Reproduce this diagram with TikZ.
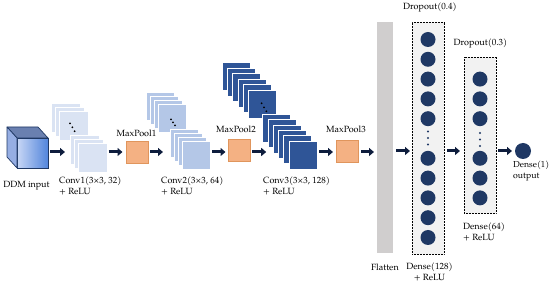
\documentclass[tikz,border=0pt]{standalone}
\usepackage{fontspec}
\setmainfont{texgyrepagella-regular.otf}
\usetikzlibrary{arrows.meta,calc}
\definecolor{navy}{HTML}{1F3864}
\definecolor{arrc}{HTML}{0E1D3D}
\definecolor{cA}{HTML}{DAE3F3}
\definecolor{cB}{HTML}{B4C7E7}
\definecolor{cC}{HTML}{2F5597}
\definecolor{poolc}{HTML}{F4B183}
\definecolor{poold}{HTML}{E0955C}
\definecolor{flatc}{HTML}{D0CECE}
\definecolor{boxc}{HTML}{F2F2F2}
\definecolor{cubeL}{HTML}{C8D7F5}
\definecolor{cubeR}{HTML}{5285DC}
\definecolor{cubeT}{HTML}{6A80B0}
\definecolor{cubeS}{HTML}{96AEE3}
\begin{document}
\begin{tikzpicture}[x=1pt,y=-1pt,
  font=\fontsize{9}{11}\selectfont,
  arr/.style={draw=arrc, line width=3pt, -{Triangle[length=5pt,width=8pt]}},
  fmap/.style={draw=white, line width=0.5pt, minimum size=28pt, inner sep=0pt, outer sep=0pt, anchor=north west},
  pool/.style={draw=poold, fill=poolc, line width=0.6pt, minimum size=22pt, inner sep=0pt, outer sep=0pt},
  neuron/.style={circle, fill=navy, minimum size=15pt, inner sep=0pt, outer sep=0pt},
  lbl/.style={inner sep=0pt, align=left, anchor=west},
  clbl/.style={inner sep=0pt, align=center}
]
\useasboundingbox (0,0) rectangle (550,283);
\coordinate (ay) at (0,152);

% input cube
\node[draw=navy, line width=0.7pt, left color=cubeL, right color=cubeR,
      minimum width=31pt, minimum height=30pt, inner sep=0pt, outer sep=0pt,
      anchor=north west] (cube) at (17,138) {};
\draw[navy, line width=0.7pt, fill=cubeT, line join=round]
  (cube.north west) -- ++(-10,-11) -- ++(31,0) -- (cube.north east) -- cycle;
\draw[navy, line width=0.7pt, fill=cubeS, line join=round]
  (cube.north west) -- ++(-10,-11) -- ++(0,30) -- (cube.south west) -- cycle;
\node[clbl] (lddm) at (26.5,186) {DDM input};

% Conv1
\foreach \i in {0,1,2}
  \node[fmap, minimum size=29pt, fill=cA] (c1b\i) at ({51+4*\i},{103+4*\i}) {};
\foreach \p in {(70,123.5),(72.3,127.3),(74.6,131.2)} \fill[black] \p circle (1pt);
\foreach \i in {0,1,2}
  \node[fmap, minimum size=29pt, fill=cA] (c1f\i) at ({70+4*\i},{135+4*\i}) {};
\node[lbl] (lc1) at (59,185.5) {Conv1(3×3, 32)\\+ ReLU};

% MaxPool1
\node[pool] (p1) at (137.5,152) {};
\node[clbl] (lp1) at (136.5,133) {MaxPool1};

% Conv2
\foreach \i in {0,1,2,3}
  \node[fmap, fill=cB] (c2b\i) at ({146+4*\i},{92+4*\i}) {};
\foreach \p in {(171,119.3),(173,122.3),(175,125.3)} \fill[black] \p circle (1pt);
\foreach \i in {0,1,2,3}
  \node[fmap, fill=cB] (c2f\i) at ({170+4*\i},{129+4*\i}) {};
\node[lbl] (lc2) at (161,185.5) {Conv2(3×3, 64)\\+ ReLU};

% MaxPool2
\node[pool] (p2) at (239.5,150.5) {};
\node[clbl] (lp2) at (236,129) {MaxPool2};

% Conv3
\foreach \i in {0,...,5}
  \node[fmap, fill=cC] (c3b\i) at ({222.3+5.2*\i},{62.3+5.6*\i}) {};
\foreach \p in {(261.7,103.3),(264,107.3),(266.3,111.3)} \fill[black] \p circle (1pt);
\foreach \i in {0,...,5}
  \node[fmap, fill=cC] (c3f\i) at ({262.7+5.26*\i},{114.3+5.34*\i}) {};
\node[lbl] (lc3) at (263,185.5) {Conv3(3×3, 128)\\+ ReLU};

% MaxPool3
\node[pool] (p3) at (347,151) {};
\node[clbl] (lp3) at (346,129) {MaxPool3};

% Flatten
\node[fill=flatc, minimum width=16pt, minimum height=231pt, inner sep=0pt, outer sep=0pt,
      anchor=north west] (fl) at (377,22) {};
\node[clbl] (lfl) at (385,267) {Flatten};

% Dense(128)
\node[draw=black, densely dotted, line width=0.5pt, fill=boxc, minimum width=32pt, minimum height=232pt,
      inner sep=0pt, outer sep=0pt, anchor=north west] (d128) at (412,22) {};
\foreach \k in {0,1,2,3,4,6,7,8,9,10}
  \node[neuron] (na\k) at (428,{39.5+19.8*\k}) {};
\foreach \y in {131.5,138,144.5} \fill[navy] (428,\y) circle (1.2pt);
\node[clbl] (ldr4) at (430,7) {Dropout(0.4)};
\node[clbl] (ld128) at (429.5,272) {Dense(128)\\+ ReLU};

% Dense(64)
\node[draw=black, densely dotted, line width=0.5pt, fill=boxc, minimum width=32pt, minimum height=156pt,
      inner sep=0pt, outer sep=0pt, anchor=north west] (d64) at (464,57) {};
\foreach \k in {2,3,4,6,7,8}
  \node[neuron] (nb\k) at (480,{39.5+19.8*\k}) {};
\foreach \y in {133,139.5,146} \fill[navy] (480,\y) circle (1.2pt);
\node[clbl] (ldr3) at (480.5,43) {Dropout(0.3)};
\node[lbl] (ld64) at (463,231.5) {Dense(64)\\+ ReLU};

% output
\node[neuron, minimum size=16pt] (out) at (523,151) {};
\node[lbl, font=\fontsize{8.7}{10.5}\selectfont] (lout) at (513,171) {Dense(1)\\output};

% arrows
\draw[arr, shorten <=2pt, shorten >=5pt] (cube.east |- ay) -- (c1f0.west |- ay);
\draw[arr, shorten <=1.5pt, shorten >=4pt] (c1f2.east |- ay) -- (p1.west |- ay);
\draw[arr, shorten <=1.5pt, shorten >=7pt] (p1.east |- ay) -- (c2f0.west |- ay);
\draw[arr, shorten <=2pt, shorten >=3pt] (c2f3.east |- ay) -- (p2.west |- ay);
\draw[arr, shorten <=1.5pt, shorten >=7pt] (p2.east |- ay) -- (c3f2.west |- ay);
\draw[arr, shorten <=2pt, shorten >=3pt] (c3f5.east |- ay) -- (p3.west |- ay);
\draw[arr, shorten <=3pt, shorten >=3pt] (p3.east |- ay) -- (fl.west |- ay);
\draw[arr, shorten <=3pt, shorten >=2pt] (fl.east |- out) -- (d128.west |- out);
\draw[arr, shorten <=3pt, shorten >=4pt] (d128.east |- out) -- (d64.west |- out);
\draw[arr, shorten <=2pt, shorten >=3pt] (d64.east |- out) -- (out.west);
\end{tikzpicture}
\end{document}
